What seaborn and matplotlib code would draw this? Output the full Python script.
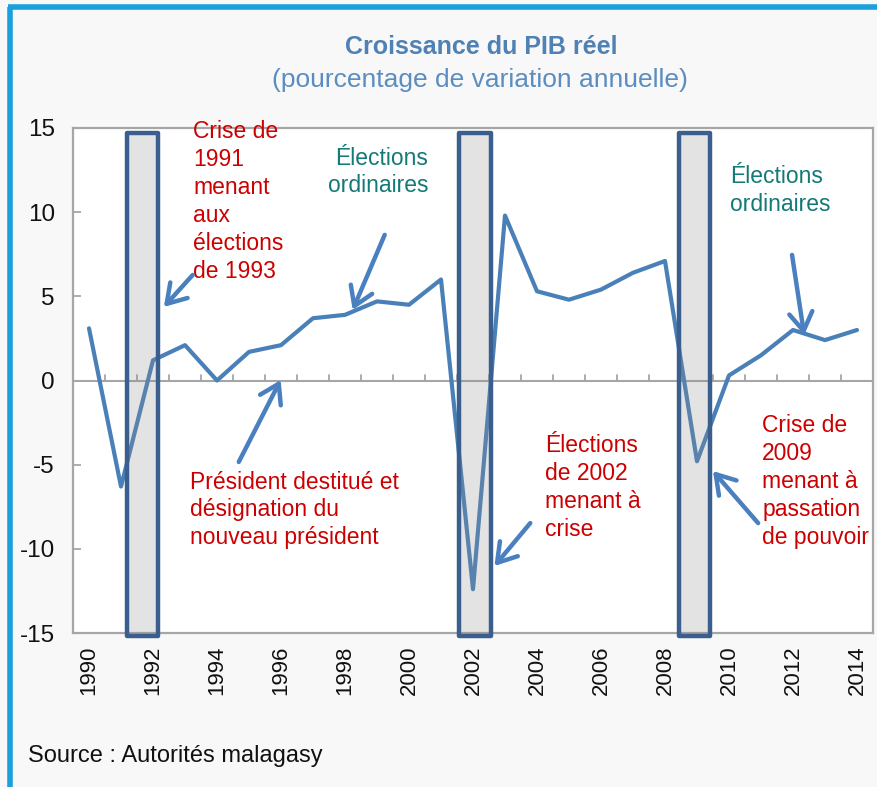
import matplotlib
matplotlib.use("Agg")
import matplotlib.pyplot as plt
import seaborn as sns
import pandas as pd
from matplotlib.patches import Rectangle
from matplotlib.lines import Line2D

# ---- data ----
years = list(range(1990, 2015))
growth = [3.1, -6.3, 1.2, 2.1, 0.0, 1.7, 2.1, 3.7, 3.9, 4.7, 4.5, 6.0, -12.4,
          9.8, 5.3, 4.8, 5.4, 6.4, 7.1, -4.8, 0.3, 1.5, 3.0, 2.4, 3.0]
crisis_start = [1991.2, 2001.56, 2008.44]
crisis_end = [1992.15, 2002.56, 2009.4]
tick_years = list(range(1990, 2015, 2))
y_ticks = [15, 10, 5, 0, -5, -10, -15]

title = "Croissance du PIB réel"
subtitle = "(pourcentage de variation annuelle)"
source = "Source : Autorités malagasy"

df = pd.DataFrame({"annee": years, "croissance": growth})

sns.set_theme(style="white")
plt.rcParams["font.family"] = ["Liberation Sans", "DejaVu Sans"]

W, H = 877, 787
fig = plt.figure(figsize=(W / 100, H / 100), dpi=100)
fig.patch.set_facecolor("#F8F8F8")

left, right, top, bottom = 73, 873, 128, 633
ax = fig.add_axes([left / W, 1 - bottom / H, (right - left) / W, (bottom - top) / H])
ax.set_facecolor("white")

line_col = "#4A80B8"
sns.lineplot(data=df, x="annee", y="croissance", ax=ax, color=line_col,
             linewidth=3.0, zorder=3)

ax.set_xlim(1989.5, 2014.5)
ax.set_ylim(-15, 15)

# crisis rectangles
for s, e in zip(crisis_start, crisis_end):
    r = Rectangle((s, -15.2), e - s, 14.7 + 15.2,
                  facecolor=(0.55, 0.55, 0.55, 0.24), edgecolor="#3A5F8E",
                  linewidth=3.2, zorder=4, clip_on=False, joinstyle="round")
    ax.add_patch(r)

# zero line with category tick marks
ax.axhline(0, color="#A6A6A6", linewidth=1.5, zorder=2)
for b in range(1990, 2015):
    ax.plot([b - 0.5, b - 0.5], [0, 0.32], color="#A6A6A6", lw=1.3, zorder=2)

# axes frame
for sp in ax.spines.values():
    sp.set_visible(True)
    sp.set_color("#A6A6A6")
    sp.set_linewidth(1.6)

ax.set_yticks(y_ticks)
ax.set_yticklabels([str(v) for v in y_ticks])
ax.set_xticks(tick_years)
ax.set_xticklabels([str(y) for y in tick_years], rotation=90)
ax.tick_params(axis="y", direction="in", length=6, width=1.3, color="#A6A6A6",
               labelsize=17.5, pad=13, left=True)
ax.tick_params(axis="x", length=0, labelsize=16, pad=9)
for lab in ax.get_yticklabels() + ax.get_xticklabels():
    lab.set_color("#111111")
ax.set_xlabel("")
ax.set_ylabel("")
ax.grid(False)

red = "#CC0000"
teal = "#137A76"
fs = 16.5
ls = 1.27

ax.text(1993.25, 15.45, "Crise de\n1991\nmenant\naux\nélections\nde 1993",
        color=red, fontsize=fs, ha="left", va="top", linespacing=ls, zorder=6)
ax.text(2000.6, 13.9, "Élections\nordinaires", color=teal, fontsize=fs,
        ha="right", va="top", linespacing=ls, zorder=6)
ax.text(1993.15, -5.35, "Président destitué et\ndésignation du\nnouveau président",
        color=red, fontsize=fs, ha="left", va="top", linespacing=ls, zorder=6)
ax.text(2004.26, -3.2, "Élections\nde 2002\nmenant à\ncrise",
        color=red, fontsize=fs, ha="left", va="top", linespacing=ls, zorder=6)
ax.text(2011.04, -2.0, "Crise de\n2009\nmenant à\npassation\nde pouvoir",
        color=red, fontsize=fs, ha="left", va="top", linespacing=ls, zorder=6)
ax.text(2010.04, 12.8, "Élections\nordinaires", color=teal, fontsize=fs,
        ha="left", va="top", linespacing=ls, zorder=6)

arrow_col = "#4A80C0"
arrows = [
    ((1993.24, 6.27), (1992.34, 4.37)),
    ((1999.24, 8.65), (1998.24, 4.19)),
    ((1994.68, -4.84), (1995.99, 0.03)),
    ((2003.79, -8.47), (2002.67, -11.02)),
    ((2010.91, -8.47), (2009.5, -5.38)),
    ((2011.97, 7.46), (2012.35, 2.7)),
]
for tail, head in arrows:
    ax.annotate("", xy=head, xytext=tail,
                arrowprops=dict(arrowstyle="->,head_length=0.6,head_width=0.38",
                                color=arrow_col, lw=3.2, mutation_scale=22,
                                shrinkA=0, shrinkB=0),
                zorder=7, annotation_clip=False)

# titles and source
fig.text(481 / W, 1 - 47 / H, title, ha="center", va="center", fontsize=18,
         fontweight="bold", color="#4F81B4")
fig.text(480 / W, 1 - 80 / H, subtitle, ha="center", va="center", fontsize=19,
         color="#5B8DC0")
fig.text(28 / W, 1 - 756 / H, source, ha="left", va="center", fontsize=17,
         color="#111111")

# blue border on top and left
fig.add_artist(Line2D([9.5 / W, 9.5 / W], [0, 1 - 6.5 / H], transform=fig.transFigure,
                      color="#1AA0DC", lw=4, solid_capstyle="butt"))
fig.add_artist(Line2D([7.5 / W, 1], [1 - 6.5 / H, 1 - 6.5 / H], transform=fig.transFigure,
                      color="#1AA0DC", lw=4, solid_capstyle="butt"))

fig.savefig("out.png", dpi=100, facecolor=fig.get_facecolor())
